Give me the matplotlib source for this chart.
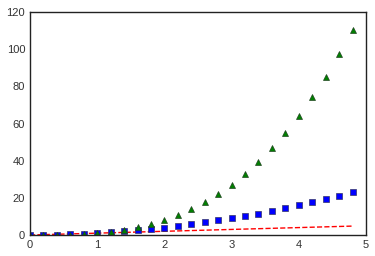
import numpy as np
import matplotlib
matplotlib.use("Agg")
import matplotlib.pyplot as plt

t = [0.0, 0.2, 0.4, 0.6, 0.8, 1.0, 1.2, 1.4, 1.6, 1.8, 2.0, 2.2, 2.4,
     2.6, 2.8, 3.0, 3.2, 3.4, 3.6, 3.8, 4.0, 4.2, 4.4, 4.6, 4.8]
linear = [0.0, 0.2, 0.4, 0.6, 0.8, 1.0, 1.2, 1.4, 1.6, 1.8, 2.0, 2.2, 2.4,
          2.6, 2.8, 3.0, 3.2, 3.4, 3.6, 3.8, 4.0, 4.2, 4.4, 4.6, 4.8]
square = [0.0, 0.04, 0.16, 0.36, 0.64, 1.0, 1.44, 1.96, 2.56, 3.24, 4.0,
          4.84, 5.76, 6.76, 7.84, 9.0, 10.24, 11.56, 12.96, 14.44, 16.0,
          17.64, 19.36, 21.16, 23.04]
cube = [0.0, 0.008, 0.064, 0.216, 0.512, 1.0, 1.728, 2.744, 4.096, 5.832,
        8.0, 10.648, 13.824, 17.576, 21.952, 27.0, 32.768, 39.304, 46.656,
        54.872, 64.0, 74.088, 85.184, 97.336, 110.592]

plt.style.use("seaborn-v0_8-white")
plt.rcParams['font.size'] = 8

fig, ax = plt.subplots(figsize=(3.75, 2.56), dpi=100)
ax.plot(t, linear, 'r--', lw=1)
ax.plot(t, square, 'bs', ms=5, mec='#333366', mew=0.5)
ax.plot(t, cube, 'g^', ms=5, mec='#224422', mew=0.5)
ax.set_xlim(0, 5)
ax.set_ylim(0, 120)
ax.tick_params(labelsize=8, labelcolor='#333333')
for s in ax.spines.values():
    s.set_color('#222222')
    s.set_linewidth(1)
fig.subplots_adjust(left=0.08, right=0.976, top=0.953, bottom=0.082)
fig.savefig("out.png")
